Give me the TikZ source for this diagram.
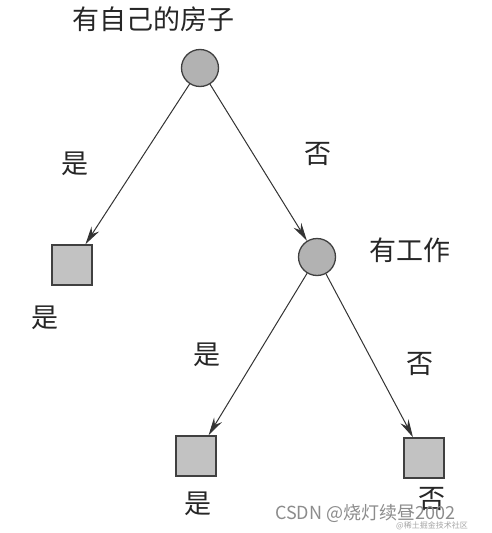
\documentclass[tikz,border=0pt]{standalone}
\usepackage{fontspec}
\newfontfamily\cjk{Noto Sans CJK SC}
\usetikzlibrary{arrows.meta}
\begin{document}
\begin{tikzpicture}[x=1pt,y=-1pt,
  decision/.style={circle,draw=black!75,line width=1.3pt,fill=black!30,minimum size=37pt,inner sep=0pt},
  leaf/.style={rectangle,draw=black!75,line width=1.5pt,fill=black!24,minimum size=40pt,inner sep=0pt},
  lbl/.style={font=\cjk\fontsize{27}{30}\selectfont,text=black!85,inner sep=0pt},
  edge/.style={draw=black!80,line width=1pt,-{Stealth[length=18pt,width=9pt]}},
  wm/.style={font=\fontsize{18}{20}\selectfont\cjk,text=black!45,inner sep=0pt}]
\useasboundingbox (0,0) rectangle (491,533);
\fill[white] (0,0) rectangle (491,533);
\node[decision] (root) at (200,68) {};
\node[lbl] (rootl) at (153,19) {有自己的房子};
\node[leaf] (l1) at (72,265) {};
\node[lbl] (l1l) at (45,318) {是};
\node[decision] (work) at (317,257) {};
\node[lbl] (workl) at (410,250) {有工作};
\node[leaf] (l2) at (196,456) {};
\node[lbl] (l2l) at (198,504) {是};
\node[leaf] (l3) at (424,458) {};
\node[lbl] (l3l) at (432,499) {否};
\path[edge] (root) -- (l1);
\path[edge] (root) -- (work);
\path[edge] (work) -- (l2);
\path[edge] (work) -- (l3);
\node[lbl] (e1) at (75,164) {是};
\node[lbl] (e2) at (318,154) {否};
\node[lbl] (e3) at (207,355) {是};
\node[lbl] (e4) at (420,364) {否};
\node[wm,anchor=west] (wm1) at (275,513) {CSDN @烧灯续昼2002};
\node[font=\fontsize{8}{9}\selectfont\cjk,text=black!35,inner sep=0pt,anchor=west] (wm2) at (396,526) {@稀土掘金技术社区};
\end{tikzpicture}
\end{document}
